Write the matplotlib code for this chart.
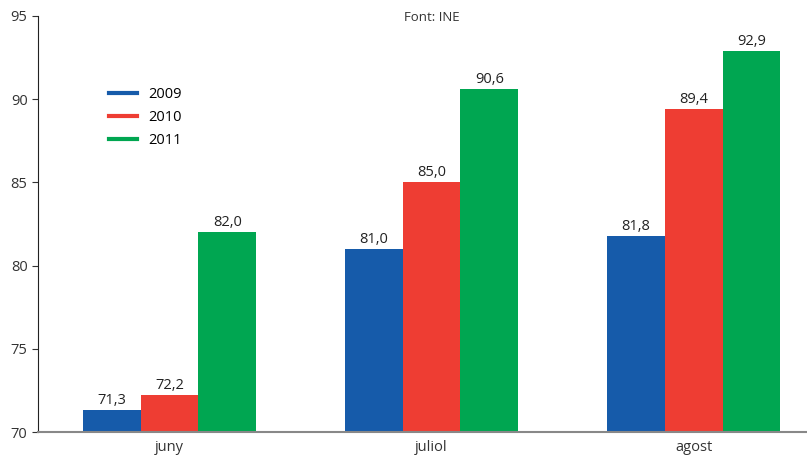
import matplotlib.pyplot as plt
from matplotlib.lines import Line2D
import numpy as np

# Data
months = ['juny', 'juliol', 'agost']
years = ['2009', '2010', '2011']
v2009 = [71.3, 81.0, 81.8]
v2010 = [72.2, 85.0, 89.4]
v2011 = [82.0, 90.6, 92.9]
colors = ['#165BAA', '#EE3D33', '#00A651']

plt.rcParams['font.family'] = ['Open Sans', 'DejaVu Sans']

fig = plt.figure(figsize=(8.07, 4.57), dpi=100)
ax = fig.add_axes([0.0471, 0.0547, 0.9529, 0.9103])

x = np.arange(len(months))
w = 0.221
for i, (vals, yr) in enumerate(zip([v2009, v2010, v2011], years)):
    pos = x + (i - 1) * w
    ax.bar(pos, np.array(vals) - 70, width=w, bottom=70, color=colors[i])
    for p, v in zip(pos, vals):
        ax.text(p, v + 0.12, f'{v:.1f}'.replace('.', ','), ha='center', va='bottom',
                fontsize=10.5, color='#222222')

ax.set_ylim(70, 95)
ax.set_xlim(-0.502, 2.433)
ax.set_yticks([70, 75, 80, 85, 90, 95])
ax.set_xticks(x)
ax.set_xticklabels(months)
ax.tick_params(axis='y', direction='out', length=4, labelsize=10.5, colors='#333333')
ax.tick_params(axis='x', length=0, labelsize=10.5, colors='#333333', pad=6)

for s in ['top', 'right']:
    ax.spines[s].set_visible(False)
ax.spines['left'].set_color('#222222')
ax.spines['bottom'].set_color('#888888')
ax.spines['bottom'].set_linewidth(1.5)

handles = [Line2D([0], [0], color=c, lw=3) for c in colors]
ax.legend(handles, years, loc='upper left', bbox_to_anchor=(0.075, 0.86), frameon=False,
          fontsize=10.5, handlelength=1.9, handletextpad=0.8, labelspacing=0.55)

fig.text(0.535, 0.962, 'Font: INE', ha='center', va='center', fontsize=9.5, color='#333333')

plt.savefig('out.png', dpi=100)
